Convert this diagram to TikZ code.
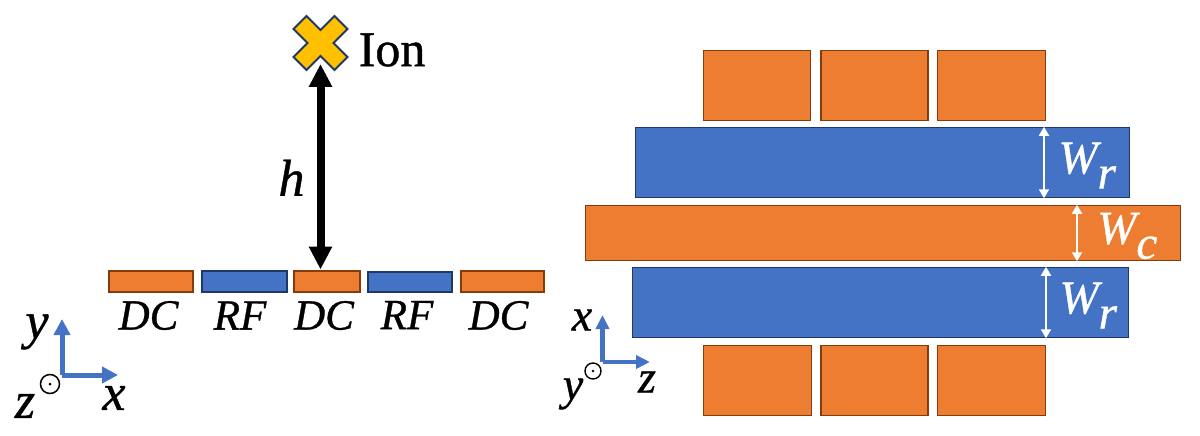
\documentclass[tikz,border=0pt]{standalone}
\usepackage{fontspec}
\setmainfont{Liberation Serif}
\newfontfamily\labelfont[FakeBold=0.8]{Liberation Serif}
\usetikzlibrary{arrows.meta}
\definecolor{dcfill}{HTML}{ED7D31}
\definecolor{dcline}{HTML}{843C0C}
\definecolor{rffill}{HTML}{4472C4}
\definecolor{rfline}{HTML}{203864}
\definecolor{ionfill}{HTML}{FFC000}
\tikzstyle{dcplate}=[draw=dcline, fill=dcfill, line width=1.5pt, inner sep=0pt]
\tikzstyle{rfplate}=[draw=rfline, fill=rffill, line width=1.5pt, inner sep=0pt]
\tikzstyle{label} = [inner sep=0pt, font=\fontsize{43}{43}\labelfont\itshape]
\tikzstyle{axislabel} = [inner sep=0pt, font=\fontsize{52}{52}\labelfont\itshape]
\tikzstyle{smalllabel} = [inner sep=0pt, font=\fontsize{46}{46}\labelfont\itshape]
\tikzstyle{whitelabel} = [inner sep=0pt, text=white, font=\fontsize{47}{47}\labelfont\itshape]
\tikzstyle{heightline} = [draw, line width=8pt, {Triangle[length=23pt,width=22pt]}-{Triangle[length=23pt,width=22pt]}]
\tikzstyle{widthline} = [draw=white, line width=1.8pt, {Triangle[length=9pt,width=10pt]}-{Triangle[length=9pt,width=10pt]}]
\tikzstyle{axisline} = [draw=rffill, line width=5pt, -{Triangle[length=16pt,width=16pt]}]
\newcommand{\plate}[5]{node (#1) [#2, minimum width=#3pt, minimum height=#4pt] {#5}}
\newcommand{\sublabel}[2]{#1\raisebox{-15pt}{#2}}
\begin{document}
\begin{tikzpicture}[x=1pt,y=-1pt]
  \useasboundingbox (0,0) rectangle (1200,436);

  % side view electrodes
  \path (150.5,281) \plate{SIDEDCA}{dcplate, line width=2pt}{84}{21}{};
  \path (SIDEDCA.east)+(50.5,0) \plate{SIDERFA}{rfplate, line width=2pt}{85}{21}{};
  \path (SIDERFA.east)+(39.5,0) \plate{SIDEDCB}{dcplate, line width=2pt}{66}{21}{};
  \path (SIDEDCB.east)+(49,1) \plate{SIDERFB}{rfplate, line width=2pt}{84}{20}{};
  \path (SIDERFB.east)+(49.5,-1) \plate{SIDEDCC}{dcplate, line width=2pt}{83}{21}{};

  % side view labels
  \path (SIDEDCA.south)+(-2,23) node (TEXTDCA) [label] {DC};
  \path (SIDERFA.south)+(-4,23) node (TEXTRFA) [label] {RF};
  \path (SIDEDCB.south)+(-3,23) node (TEXTDCB) [label] {DC};
  \path (SIDERFB.south)+(-3,22) node (TEXTRFB) [label] {RF};
  \path (SIDEDCC.south)+(-4,23) node (TEXTDCC) [label] {DC};

  % ion and height
  \coordinate (IONMARK) at (320.5,43);
  \path (IONMARK)+(0,21) coordinate (IONBASE);
  \path [heightline] (IONBASE) -- node (TEXTH) [axislabel, left=12pt, yshift=-11pt] {h} (SIDEDCB.north -| IONBASE);
  \path [fill=ionfill, draw=rfline, line width=2pt] (IONMARK)
    +(-14,-27) -- +(0,-13) -- +(14,-27) -- +(27,-14) -- +(13,0) -- +(27,14)
    -- +(14,27) -- +(0,13) -- +(-14,27) -- +(-27,14) -- +(-13,0) -- +(-27,-14) -- cycle;
  \path (IONMARK)+(38,7) node (TEXTION) [anchor=west, inner sep=0pt, font=\fontsize{50}{50}\labelfont] {Ion};

  % side view axes
  \coordinate (SIDEORIGIN) at (62,375);
  \path (SIDEORIGIN)+(0,-56) coordinate (SIDEY);
  \path (SIDEORIGIN)+(56,0) coordinate (SIDEX);
  \path [axisline] (SIDEORIGIN) -- (SIDEY);
  \path [axisline] (SIDEORIGIN) -- (SIDEX);
  \path (SIDEORIGIN)+(-12,9) node (SIDEDOT) [draw, circle, line width=1.5pt, minimum size=19pt, inner sep=0pt] {};
  \fill (SIDEDOT) circle (1.5);
  \path (SIDEORIGIN)+(-25,-43) node (TEXTSIDEY) [axislabel] {y};
  \path (SIDEORIGIN)+(52,23) node (TEXTSIDEX) [axislabel] {x};
  \path (SIDEORIGIN)+(-37,31) node (TEXTSIDEZ) [axislabel] {z};

  % top view electrodes
  \path (757,85.5) \plate{TOPA}{dcplate}{107}{70}{};
  \path (TOPA.east)+(63,0) \plate{TOPB}{dcplate}{107}{70}{};
  \path (TOPB.east)+(63,0) \plate{TOPC}{dcplate}{108}{70}{};
  \path (882.5,162.5) \plate{RFUP}{rfplate}{494}{70}{};
  \path (883,233) \plate{CENTRE}{dcplate}{595}{55}{};
  \path (880.5,302.5) \plate{RFDOWN}{rfplate}{496}{70}{};
  \path (757.5,380.5) \plate{BOTTOMA}{dcplate}{108}{70}{};
  \path (BOTTOMA.east)+(62,0) \plate{BOTTOMB}{dcplate}{107}{70}{};
  \path (BOTTOMB.east)+(63,0) \plate{BOTTOMC}{dcplate}{108}{70}{};

  % top view widths
  \path (RFUP.north)+(161.5,0) coordinate (RFUPA);
  \path (RFUP.south)+(161.5,0) coordinate (RFUPB);
  \path [widthline] (RFUPA) -- (RFUPB);
  \path (RFUP.east)+(-43,3) node (TEXTWRA) [whitelabel] {\sublabel{W}{r}};
  \path (CENTRE.north)+(194,0) coordinate (CENTREA);
  \path (CENTRE.south)+(194,0) coordinate (CENTREB);
  \path [widthline] (CENTREA) -- (CENTREB);
  \path (CENTRE.east)+(-54,3) node (TEXTWC) [whitelabel] {\sublabel{W}{c}};
  \path (RFDOWN.north)+(165.5,0) coordinate (RFDOWNA);
  \path (RFDOWN.south)+(165.5,0) coordinate (RFDOWNB);
  \path [widthline] (RFDOWNA) -- (RFDOWNB);
  \path (RFDOWN.east)+(-41,3) node (TEXTWRB) [whitelabel] {\sublabel{W}{r}};

  % top view axes
  \coordinate (TOPORIGIN) at (602.5,362);
  \path (TOPORIGIN)+(0,-47) coordinate (TOPX);
  \path (TOPORIGIN)+(47.5,0) coordinate (TOPZ);
  \path [axisline, line width=4.5pt, -{Triangle[length=14pt,width=13pt]}] (TOPORIGIN) -- (TOPX);
  \path [axisline, line width=4.5pt, -{Triangle[length=14pt,width=13pt]}] (TOPORIGIN) -- (TOPZ);
  \path (TOPORIGIN)+(-9.5,9) node (TOPDOT) [draw, circle, line width=1.4pt, minimum size=16pt, inner sep=0pt] {};
  \fill (TOPDOT) circle (1.4);
  \path (TOPORIGIN)+(-20.5,-42) node (TEXTTOPX) [smalllabel] {x};
  \path (TOPORIGIN)+(44.5,20) node (TEXTTOPZ) [smalllabel] {z};
  \path (TOPORIGIN)+(-29.5,32) node (TEXTTOPY) [smalllabel] {y};
\end{tikzpicture}
\end{document}
